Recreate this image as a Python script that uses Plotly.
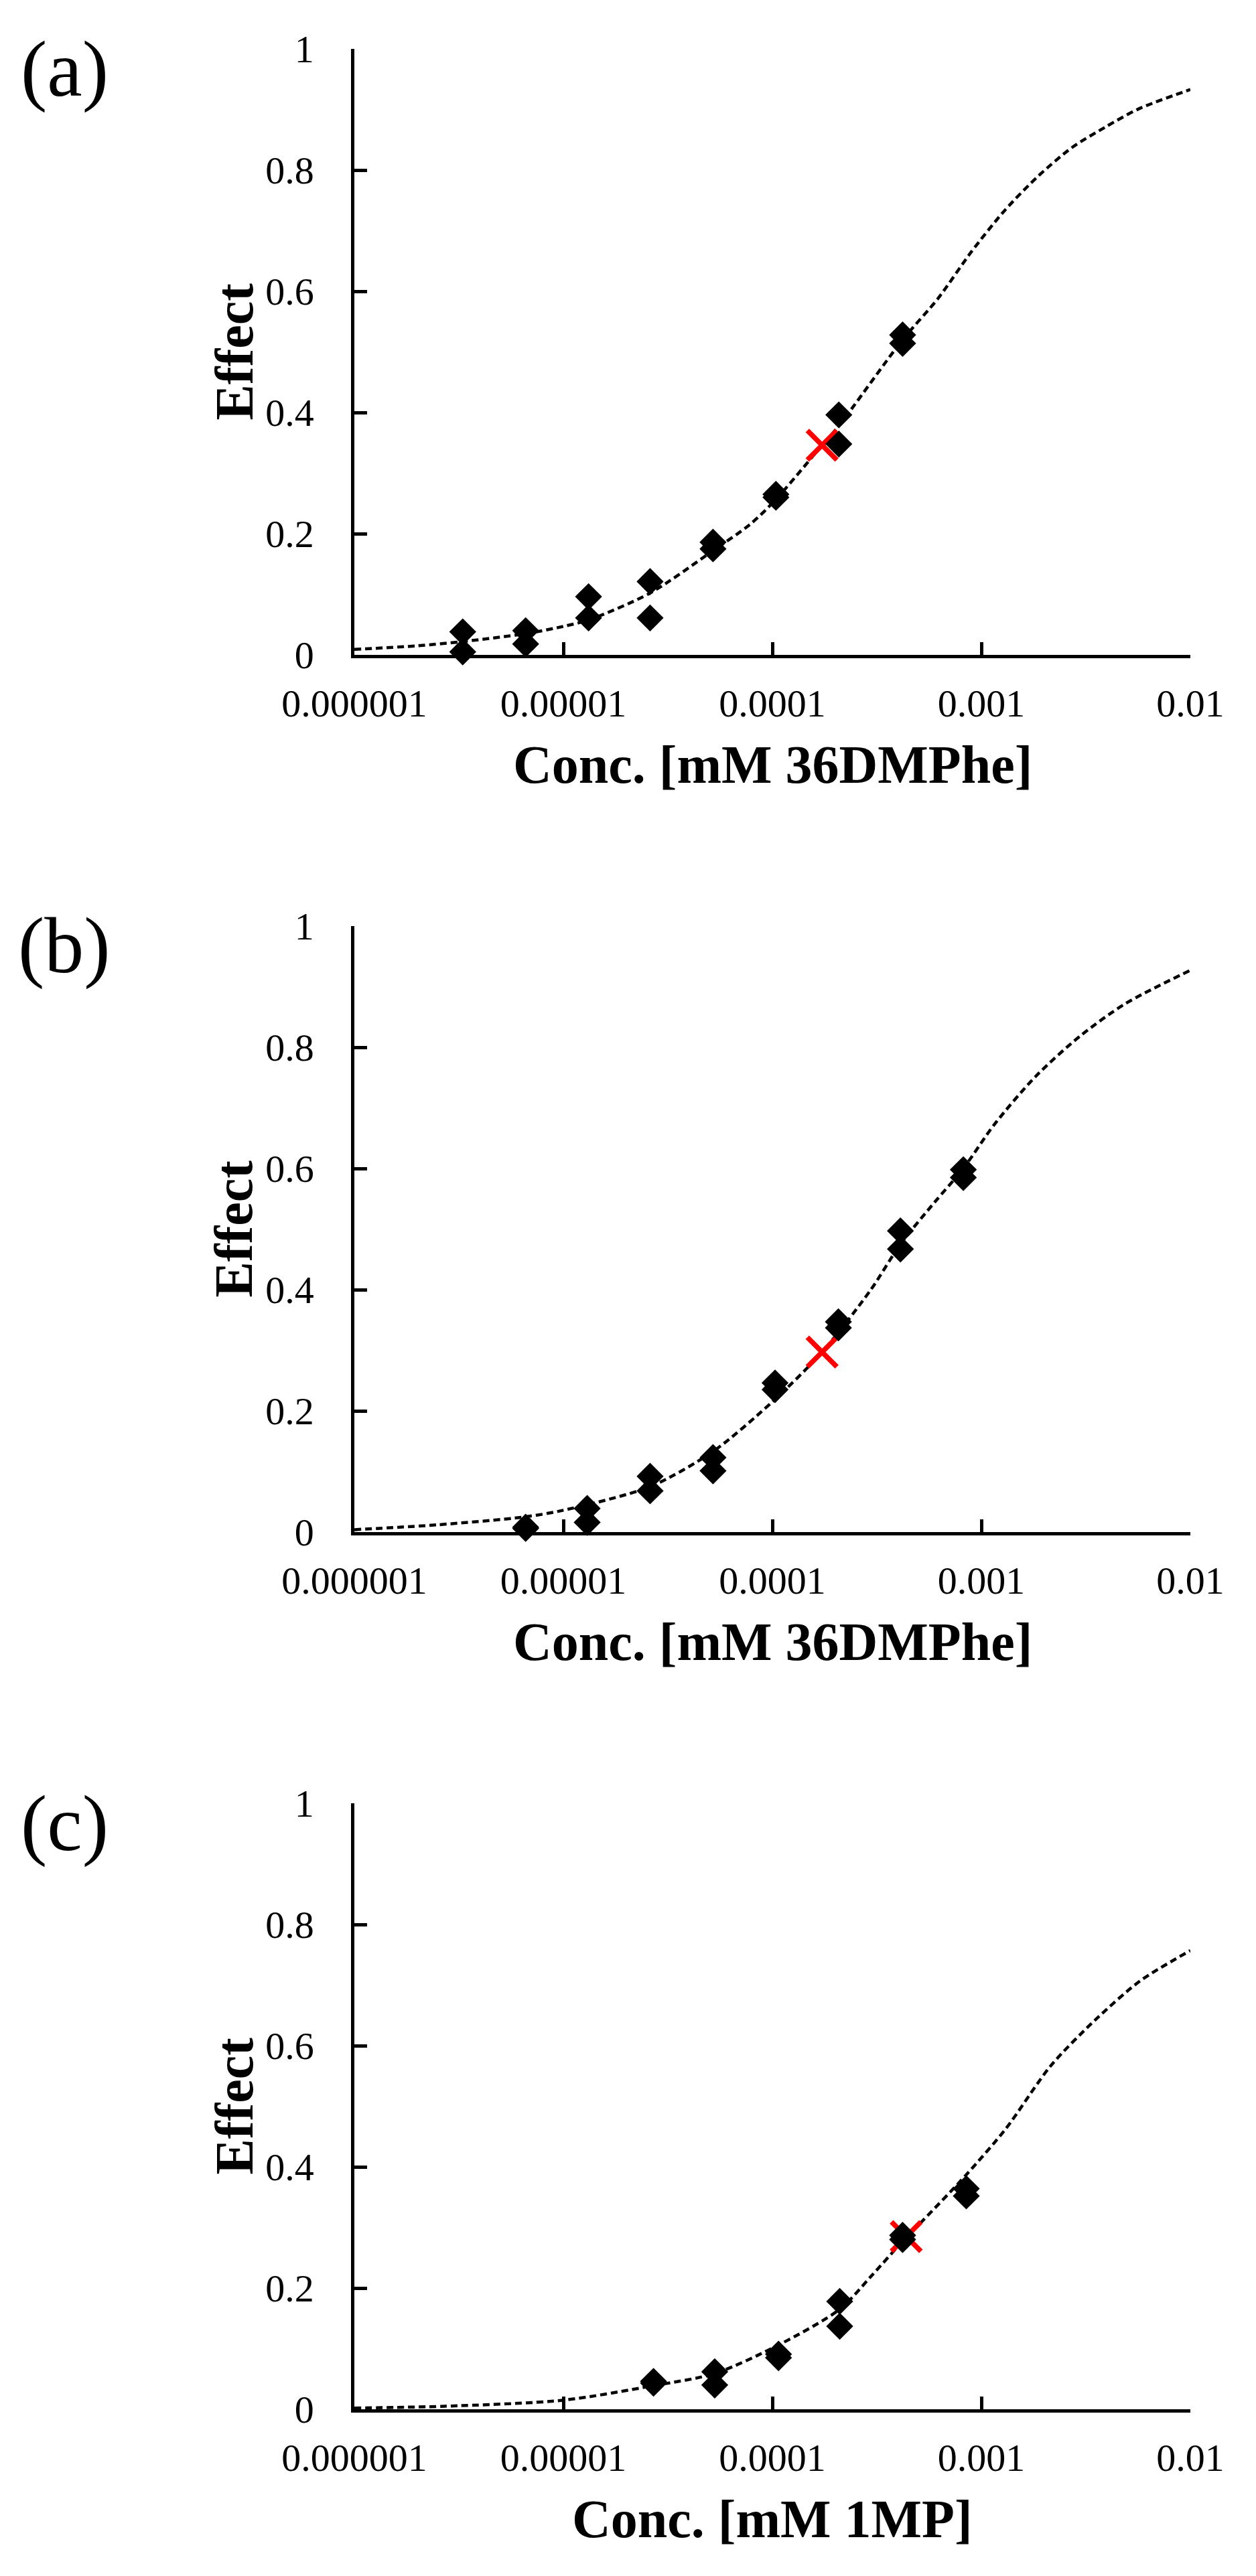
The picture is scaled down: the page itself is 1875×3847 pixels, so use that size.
import plotly.graph_objects as go

# ---------------- data ----------------
tick_vals_x = [1e-6, 1e-5, 1e-4, 1e-3, 1e-2]
tick_text_x = ["0.000001", "0.00001", "0.0001", "0.001", "0.01"]
tick_vals_y = [0, 0.2, 0.4, 0.6, 0.8, 1.0]
tick_text_y = ["0", "0.2", "0.4", "0.6", "0.8", "1"]

panel_labels = ["(a)", "(b)", "(c)"]
x_titles = ["Conc. [mM 36DMPhe]", "Conc. [mM 36DMPhe]", "Conc. [mM 1MP]"]
y_title = "Effect"

# panel (a)
a_x = [3.3e-6, 3.3e-6, 6.6e-6, 6.6e-6, 1.32e-5, 1.32e-5, 2.6e-5, 2.6e-5,
       5.2e-5, 5.2e-5, 1.04e-4, 1.04e-4, 2.08e-4, 2.08e-4, 4.2e-4, 4.2e-4]
a_y = [0.038, 0.005, 0.040, 0.018, 0.096, 0.061, 0.121, 0.061,
       0.186, 0.175, 0.265, 0.260, 0.396, 0.348, 0.528, 0.514]
a_cross_x = [1.73e-4]
a_cross_y = [0.346]
a_fit_x = [1.0e-6, 2.0e-6, 3.3e-6, 6.6e-6, 1.0e-5, 1.33e-5, 2.6e-5, 5.2e-5,
           7.8e-5, 1.03e-4, 1.73e-4, 2.08e-4, 4.2e-4, 6.2e-4, 8.95e-4,
           1.29e-3, 1.87e-3, 2.71e-3, 3.92e-3, 5.66e-3, 1.0e-2]
a_fit_y = [0.009, 0.015, 0.022, 0.035, 0.047, 0.058, 0.102, 0.172,
           0.215, 0.255, 0.346, 0.378, 0.520, 0.588, 0.665, 0.733,
           0.790, 0.837, 0.871, 0.901, 0.933]

# panel (b)
b_x = [6.6e-6, 6.6e-6, 1.3e-5, 1.3e-5, 2.6e-5, 2.6e-5, 5.2e-5, 5.2e-5,
       1.03e-4, 1.03e-4, 2.07e-4, 2.07e-4, 4.1e-4, 4.1e-4, 8.2e-4, 8.2e-4]
b_y = [0.008, 0.006, 0.039, 0.016, 0.092, 0.068, 0.123, 0.101,
       0.246, 0.235, 0.347, 0.337, 0.497, 0.467, 0.598, 0.585]
b_cross_x = [1.73e-4]
b_cross_y = [0.297]
b_fit_x = [1.0e-6, 2.5e-6, 6.5e-6, 1.0e-5, 2.6e-5, 5.2e-5, 1.0e-4, 1.73e-4,
           2.96e-4, 4.1e-4, 6.0e-4, 8.2e-4, 1.15e-3, 1.82e-3, 2.98e-3,
           4.89e-3, 1.0e-2]
b_fit_y = [0.004, 0.012, 0.025, 0.036, 0.075, 0.133, 0.215, 0.297,
           0.400, 0.475, 0.545, 0.600, 0.672, 0.752, 0.819,
           0.872, 0.927]

# panel (c)
c_x = [2.7e-5, 2.7e-5, 5.3e-5, 5.3e-5, 1.07e-4, 1.07e-4, 2.1e-4, 2.1e-4,
       4.2e-4, 4.2e-4, 8.47e-4, 8.47e-4]
c_y = [0.046, 0.043, 0.062, 0.040, 0.091, 0.085, 0.178, 0.137,
       0.287, 0.280, 0.364, 0.352]
c_cross_x = [4.37e-4]
c_cross_y = [0.285]
c_fit_x = [1.0e-6, 2.7e-6, 1.0e-5, 2.7e-5, 5.3e-5, 1.07e-4, 2.1e-4, 2.96e-4,
           4.35e-4, 5.2e-4, 8.47e-4, 1.31e-3, 2.15e-3, 3.52e-3, 5.76e-3, 1.0e-2]
c_fit_y = [0.002, 0.005, 0.015, 0.039, 0.059, 0.106, 0.165, 0.219,
           0.283, 0.310, 0.387, 0.463, 0.567, 0.643, 0.707, 0.757]

panels = [
    (a_x, a_y, a_cross_x, a_cross_y, a_fit_x, a_fit_y),
    (b_x, b_y, b_cross_x, b_cross_y, b_fit_x, b_fit_y),
    (c_x, c_y, c_cross_x, c_cross_y, c_fit_x, c_fit_y),
]

# ---------------- layout geometry (pixels) ----------------
W, H = 1875, 3847
plot_left, plot_right = 529, 1777
plot_tops = [73, 1383, 2693]
plot_h = 905
FONT = "Liberation Serif"

def px_x(p):
    return p / W

def px_y(p):
    return 1 - p / H

fig = go.Figure()
layout = dict(
    template="none",
    width=W, height=H, autosize=False,
    margin=dict(l=0, r=0, t=0, b=0, pad=0, autoexpand=False),
    paper_bgcolor="white", plot_bgcolor="white",
    showlegend=False,
    font=dict(family=FONT, color="black"),
)
annotations = []

for i, (px_, py_, cx, cy, fx, fy) in enumerate(panels):
    n = "" if i == 0 else str(i + 1)
    xa = "x" + n
    ya = "y" + n
    fig.add_trace(go.Scatter(x=fx, y=fy, mode="lines", xaxis=xa, yaxis=ya,
                             line=dict(color="black", width=4.5, dash="10px,6px",
                                       shape="spline", smoothing=0.8),
                             hoverinfo="skip"))
    fig.add_trace(go.Scatter(x=cx, y=cy, mode="markers", xaxis=xa, yaxis=ya,
                             cliponaxis=False,
                             marker=dict(symbol="x-thin", size=44,
                                         line=dict(color="#ff0000", width=7.5))))
    fig.add_trace(go.Scatter(x=px_, y=py_, mode="markers", xaxis=xa, yaxis=ya,
                             cliponaxis=False,
                             marker=dict(symbol="diamond", size=31, color="black",
                                         line=dict(width=0))))

    top = plot_tops[i]
    bottom = top + plot_h
    common = dict(showgrid=False, zeroline=False, showline=True, automargin=False,
                  linecolor="black", linewidth=4.5, ticks="inside",
                  ticklen=19, tickwidth=4.5, tickcolor="black",
                  tickfont=dict(family=FONT, size=58, color="black"))
    layout["xaxis" + n] = dict(
        common, type="log", range=[-6, -2],
        domain=[px_x(plot_left), px_x(plot_right)],
        anchor=ya, tickvals=tick_vals_x, ticktext=tick_text_x,
        ticklabelstandoff=18,
    )
    layout["yaxis" + n] = dict(
        common, range=[0, 1],
        domain=[px_y(bottom), px_y(top)],
        anchor=xa, tickvals=tick_vals_y, ticktext=tick_text_y,
        ticklabelstandoff=44,
    )

    annotations.append(dict(text=panel_labels[i], xref="paper", yref="paper",
                            x=px_x(96), y=px_y(top + 30), xanchor="center",
                            yanchor="middle", showarrow=False,
                            font=dict(family=FONT, size=118, color="black")))
    annotations.append(dict(text=y_title, xref="paper", yref="paper",
                            x=px_x(349), y=px_y(top + plot_h / 2), textangle=-90,
                            xanchor="center", yanchor="middle", showarrow=False,
                            font=dict(family=FONT, size=80, color="black",
                                      weight="bold")))
    annotations.append(dict(text=x_titles[i], xref="paper", yref="paper",
                            x=px_x((plot_left + plot_right) / 2),
                            y=px_y(bottom + 164), xanchor="center",
                            yanchor="middle", showarrow=False,
                            font=dict(family=FONT, size=80, color="black",
                                      weight="bold")))

layout["annotations"] = annotations
fig.update_layout(**layout)

fig.write_html("out.html", config={"displayModeBar": False},
               post_script="document.body.style.margin='0';document.body.style.overflow='hidden';")
